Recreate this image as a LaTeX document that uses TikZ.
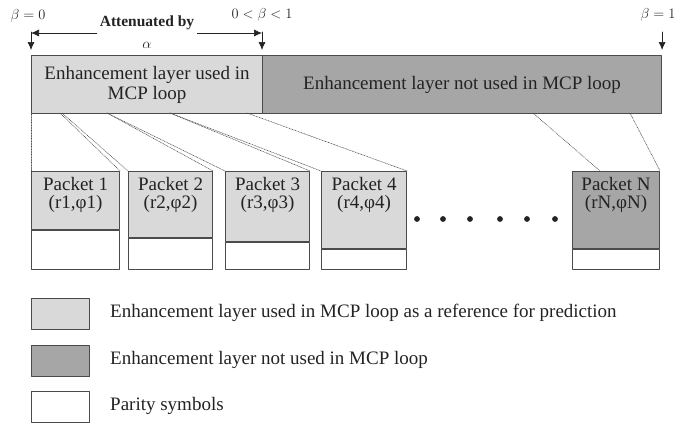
\documentclass[tikz,border=0pt]{standalone}
\usepackage{fontspec}
\setmainfont{Liberation Serif}
\usetikzlibrary{arrows.meta}

\definecolor{usedgray}{RGB}{217,217,217}
\definecolor{notusedgray}{RGB}{166,166,166}
\definecolor{edgegray}{RGB}{75,75,75}
\definecolor{inkgray}{RGB}{35,35,35}

\begin{document}
\begin{tikzpicture}[x=1pt,y=-1pt,line cap=round,line join=round,
  every node/.style={text=inkgray},
  box/.style={draw=edgegray,line width=1.1pt,rectangle,inner sep=0pt,anchor=north west},
  usedbox/.style={box,fill=usedgray},
  notusedbox/.style={box,fill=notusedgray},
  paritybox/.style={draw=edgegray,line width=1.1pt,rectangle,inner sep=0pt,fill=white,anchor=north},
  bigtext/.style={font=\fontsize{19}{21}\selectfont,align=center},
  pkttext/.style={anchor=north,inner sep=0pt,yshift=-6pt,font=\fontsize{19}{18.5}\selectfont,align=center},
  small/.style={font=\fontsize{14}{16}\selectfont,inner sep=1pt},
  arr/.style={line width=0.7pt,draw=inkgray,-{Latex[length=8pt,width=7pt]}},
  link/.style={line width=0.6pt,draw=edgegray,densely dotted}]
  \useasboundingbox (0,0) rectangle (699,429);
  % top layer bar
  \node[usedbox,minimum width=231,minimum height=58,bigtext] (used) at (31,55)
    {Enhancement layer used in\\[-1pt]MCP loop};
  \node[notusedbox,minimum width=399,minimum height=58,bigtext] (notused) at (262,55)
    {Enhancement layer not used in MCP loop};
  % beta marks
  \node[small] (b0) at (28,16) {$\beta=0$};
  \node[small] (bmid) at (262,15) {$0<\beta<1$};
  \node[small] (b1) at (658,15) {$\beta=1$};
  \draw[arr] (used.north west) ++(0,-23) -- ++(0,18);
  \draw[arr] (notused.north west) ++(0,-23) -- ++(0,18);
  \draw[arr] (notused.north east) ++(0,-23) -- ++(0,18);
  \node[font=\fontsize{15.5}{17}\selectfont\bfseries,inner sep=3pt] (att) at (147,23) {Attenuated by};
  \node[small] (alpha) at (147,45) {$\alpha$};
  \coordinate (al) at (31,33);
  \coordinate (ar) at (262,33);
  \draw[arr] (al -| att.west) -- (al);
  \draw[arr] (ar -| att.east) -- (ar);
  % packets
  \node[usedbox,minimum width=88,minimum height=58] (p1) at (31,171) {};
  \node[usedbox,minimum width=84,minimum height=66] (p2) at (128,171) {};
  \node[usedbox,minimum width=84,minimum height=70] (p3) at (225,171) {};
  \node[usedbox,minimum width=85,minimum height=77] (p4) at (321,171) {};
  \node[notusedbox,minimum width=87,minimum height=77] (pN) at (572,171) {};
  \node[pkttext] (t1) at (p1.north) {Packet 1\\(r1,φ1)};
  \node[pkttext] (t2) at (p2.north) {Packet 2\\(r2,φ2)};
  \node[pkttext] (t3) at (p3.north) {Packet 3\\(r3,φ3)};
  \node[pkttext] (t4) at (p4.north) {Packet 4\\(r4,φ4)};
  \node[pkttext] (tN) at (pN.north) {Packet N\\(rN,φN)};
  \node[paritybox,minimum width=88,minimum height=39] (q1) at (p1.south) {};
  \node[paritybox,minimum width=84,minimum height=31] (q2) at (p2.south) {};
  \node[paritybox,minimum width=84,minimum height=27] (q3) at (p3.south) {};
  \node[paritybox,minimum width=85,minimum height=20] (q4) at (p4.south) {};
  \node[paritybox,minimum width=87,minimum height=20] (qN) at (pN.south) {};
  \fill[inkgray] (417,219) circle (2.9) (443,219) circle (2.9) (470,219) circle (2.9)
    (500,219) circle (2.9) (527,219) circle (2.9) (555,219) circle (2.9);
  % split of the bar into packets
  \coordinate (s1) at (60,113);
  \coordinate (s2) at (62,113);
  \coordinate (s3) at (107,113);
  \coordinate (s4) at (170,113);
  \coordinate (s5) at (247,113);
  \coordinate (s6) at (533,113);
  \coordinate (s7) at (630,113);
  \coordinate (e6) at (600,171);
  \draw[link] (used.south west) -- (p1.north west);
  \draw[link] (s1) -- (p1.north east);
  \draw[link] (s2) -- (p2.north west);
  \draw[link] (s3) -- (p2.north east);
  \draw[link] (s3) -- (p3.north west);
  \draw[link] (s4) -- (p3.north east);
  \draw[link] (s4) -- (p4.north west);
  \draw[link] (s5) -- (p4.north east);
  \draw[link] (s6) -- (e6);
  \draw[link] (s7) -- (pN.north east);
  % legend
  \node[usedbox,minimum width=58,minimum height=31] (l1) at (31,298) {};
  \node[notusedbox,minimum width=58,minimum height=31] (l2) at (31,345) {};
  \node[box,fill=white,minimum width=58,minimum height=31] (l3) at (31,391) {};
  \node[bigtext,anchor=west,inner sep=0pt] (k1) at (110,313) {Enhancement layer used in MCP loop as a reference for prediction};
  \node[bigtext,anchor=west,inner sep=0pt] (k2) at (110,360) {Enhancement layer not used in MCP loop};
  \node[bigtext,anchor=west,inner sep=0pt] (k3) at (110,406) {Parity symbols};
\end{tikzpicture}
\end{document}
